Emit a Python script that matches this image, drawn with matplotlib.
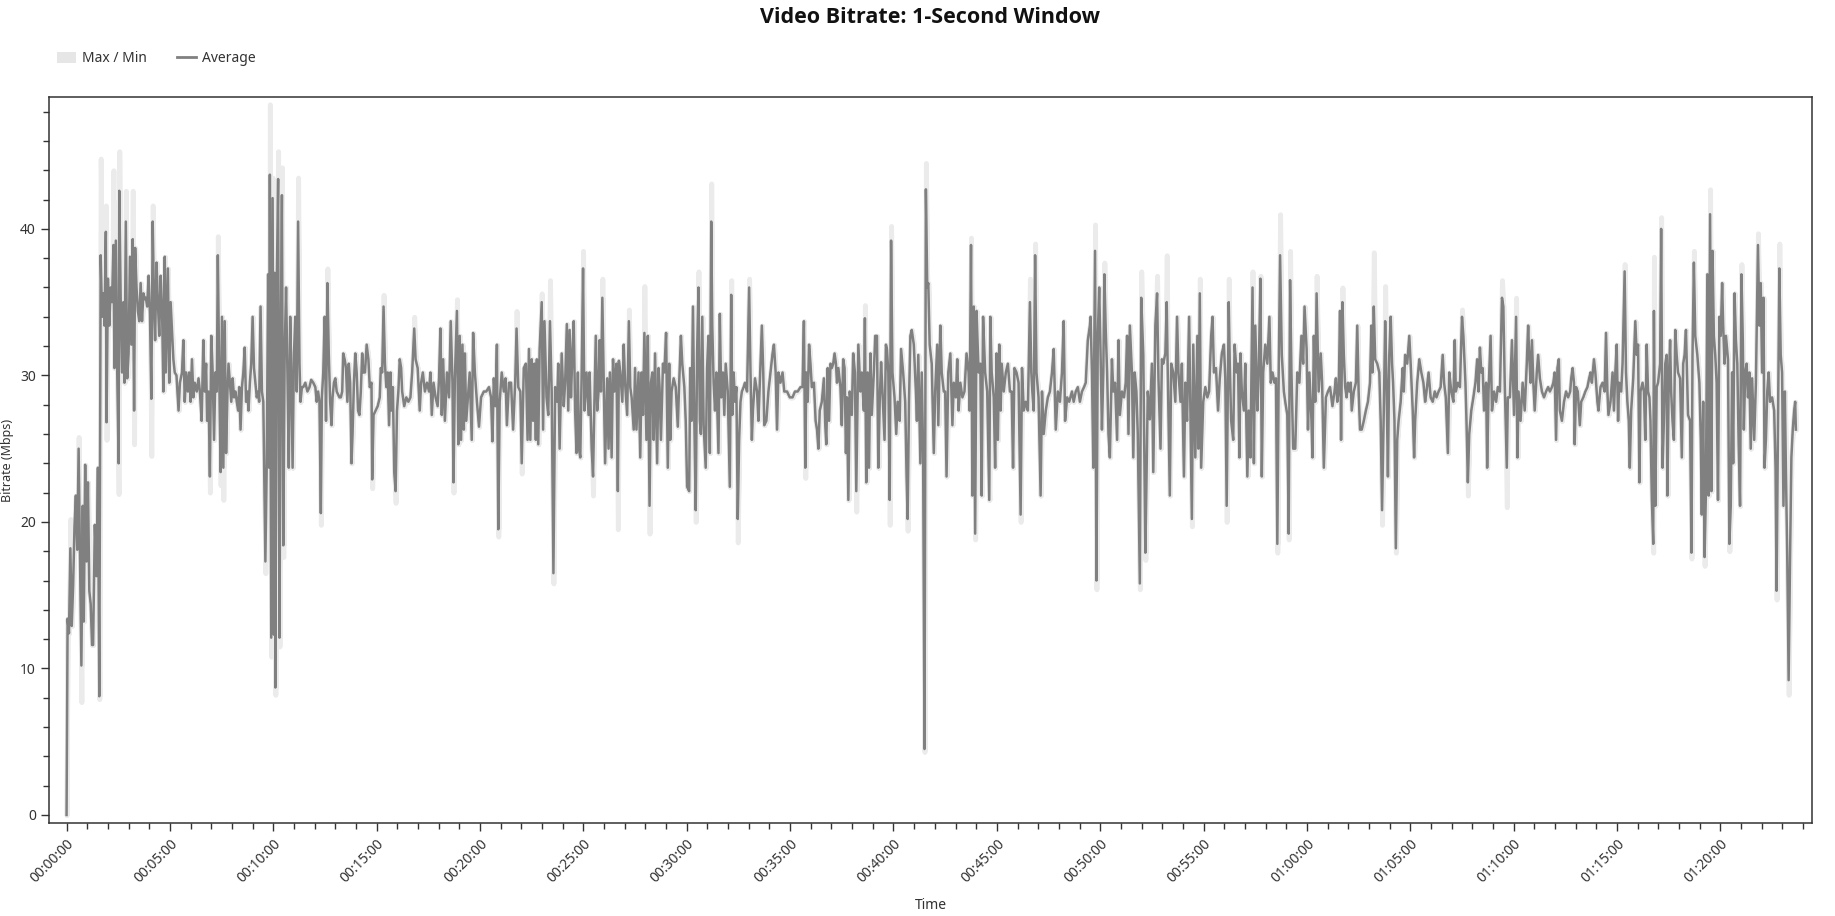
import numpy as np
import matplotlib
matplotlib.use("Agg")
import matplotlib.pyplot as plt
from matplotlib.ticker import MultipleLocator, FuncFormatter
from matplotlib.patches import Patch
from matplotlib.lines import Line2D

plt.rcParams['font.family'] = ['Noto Sans', 'DejaVu Sans']

# seconds from start / average Mbps
time_s = [
    0, 3, 7, 11, 15, 19, 23, 27, 31, 35, 39, 43, 47, 50, 54, 58, 62, 66, 70, 74, 77, 82, 87, 91, 95,
    99, 103, 107, 110, 114, 116, 120, 124, 128, 132, 136, 139, 143, 147, 151, 153, 157, 161, 165, 168,
    172, 176, 180, 184, 188, 192, 196, 199, 203, 207, 211, 215, 219, 223, 227, 230, 234, 238, 242, 246,
    250, 254, 257, 261, 265, 269, 273, 277, 281, 285, 288, 294, 298, 302, 306, 310, 314, 319, 325, 329,
    335, 339, 343, 347, 352, 356, 360, 364, 368, 372, 378, 383,
    387, 392, 397, 401, 405, 408, 412, 416, 420, 424, 428, 432, 436, 439, 443, 447, 451, 455, 459, 463,
    467, 470, 474, 478, 482, 486, 490, 494, 498, 501, 505, 509, 513, 517, 521, 525, 528, 532, 536, 540,
    544, 548, 552, 556, 559, 563, 567, 571, 577, 581, 585, 588, 590, 594, 598, 602, 604, 606, 610, 614,
    618, 621, 625, 629, 633, 637, 641, 645, 649, 652, 656, 660, 664, 668, 672, 676, 679, 683, 687, 693,
    699, 705, 710, 716, 722, 726, 730, 734, 738, 741, 745, 749, 753, 757, 761, 765, 769, 772, 776, 780,
    784, 788, 792, 796, 800, 803, 807, 811, 815, 819, 823, 827, 830, 834, 838, 842, 846, 850, 854, 858,
    861,
    866, 871, 876, 880, 885, 887, 891, 897, 903, 909, 912, 916, 920, 924, 928, 932, 936, 940, 943, 947,
    951, 955, 959, 963, 967, 971, 974, 980, 986, 992, 998, 1003, 1009, 1013, 1019, 1025, 1029, 1034,
    1040, 1046, 1052, 1056, 1060, 1065, 1071, 1077, 1081, 1085, 1089, 1093, 1098, 1104, 1110, 1115,
    1120, 1123, 1127, 1133, 1137, 1141, 1145, 1149, 1153, 1156, 1160, 1166, 1170, 1176, 1180, 1185,
    1191, 1197, 1203, 1211, 1218, 1226, 1232, 1236, 1240, 1245, 1249, 1253, 1257, 1263, 1269, 1274,
    1278, 1284, 1290, 1296, 1302, 1306, 1311, 1317, 1321, 1327, 1333, 1338, 1342, 1346, 1350, 1354,
    1358, 1362, 1365, 1369, 1373, 1379, 1383, 1387, 1393, 1398, 1403, 1408, 1413, 1418, 1424, 1427,
    1431, 1437, 1443, 1447, 1452, 1456, 1460, 1464, 1468, 1472, 1476, 1480, 1484, 1487, 1491, 1495,
    1499, 1503, 1509, 1515, 1518, 1524, 1528, 1532, 1536, 1540, 1544, 1547, 1551, 1555, 1559, 1563,
    1569, 1573, 1577,
    1582, 1586, 1590, 1596, 1600, 1603, 1607, 1613, 1617, 1621, 1627, 1632, 1636, 1640, 1646, 1650,
    1654, 1660, 1665, 1669, 1673, 1677, 1683, 1687, 1692, 1696, 1700, 1704, 1708, 1714, 1718, 1721,
    1725, 1731, 1735, 1740, 1745, 1749, 1752, 1756, 1762, 1768, 1774, 1778, 1783, 1787, 1793, 1797,
    1801, 1807, 1810, 1814, 1818, 1822, 1826, 1830, 1834, 1838, 1841, 1845, 1849, 1855, 1859, 1863,
    1867, 1871, 1874, 1878, 1882, 1886, 1892, 1896, 1900, 1905, 1909, 1913, 1919, 1925, 1929, 1932,
    1936, 1940, 1944, 1948, 1952, 1956, 1960, 1965, 1969, 1975, 1981, 1985, 1989, 1992, 1998, 2004,
    2008, 2012, 2018, 2022, 2025, 2031, 2037, 2043, 2049, 2053, 2058, 2062, 2066, 2072, 2078, 2083,
    2091, 2099, 2107, 2114, 2122, 2130, 2136, 2140, 2144, 2147, 2151, 2155, 2159, 2163, 2169, 2174,
    2178, 2182, 2186, 2192, 2198, 2202, 2205, 2209, 2213, 2217, 2221, 2225, 2229, 2233, 2236, 2240,
    2246, 2250, 2254, 2258, 2262, 2265, 2269, 2273,
    2279, 2283, 2288, 2292, 2298, 2304, 2308, 2314, 2317, 2321, 2325, 2329, 2333, 2337, 2343, 2347,
    2352, 2356, 2360, 2364, 2368, 2374, 2378, 2381, 2385, 2389, 2393, 2397, 2403, 2408, 2412, 2418,
    2422, 2428, 2434, 2438, 2441, 2445, 2449, 2453, 2459, 2465, 2468, 2472, 2478, 2482, 2486, 2490,
    2494, 2498, 2501, 2505, 2511, 2517, 2521, 2527, 2530, 2536, 2540, 2546, 2550, 2554, 2559, 2565,
    2571, 2575, 2581, 2585, 2589, 2594, 2600, 2606, 2612, 2618, 2621, 2625, 2629, 2633, 2637, 2641,
    2647, 2652, 2656, 2660, 2666, 2672, 2678, 2681, 2685, 2691, 2695, 2699, 2703, 2707, 2711, 2714,
    2720, 2726, 2732, 2738, 2743, 2747, 2751, 2757, 2763, 2769, 2773, 2778, 2784, 2790, 2796, 2800,
    2803, 2807, 2811, 2815, 2821, 2827, 2831, 2836, 2842, 2848, 2854, 2860, 2865, 2871, 2877, 2883,
    2889, 2894, 2898, 2904, 2910, 2918, 2923, 2929, 2935, 2941, 2947, 2953, 2958, 2964, 2970,
    2972, 2976, 2980, 2985, 2989, 2993, 2997, 3001, 3005, 3009, 3012, 3016, 3020, 3024, 3028, 3034,
    3038, 3043, 3049, 3053, 3057, 3063, 3069, 3074, 3078, 3082, 3086, 3092, 3096, 3100, 3105, 3109,
    3115, 3119, 3125, 3131, 3134, 3138, 3144, 3150, 3154, 3160, 3165, 3169, 3175, 3179, 3183, 3189,
    3193, 3196, 3202, 3206, 3212, 3218, 3223, 3227, 3233, 3237, 3243, 3247, 3252, 3258, 3262, 3266,
    3270, 3276, 3282, 3285, 3289, 3293, 3299, 3305, 3311, 3316, 3322, 3326, 3330, 3336, 3342, 3347,
    3353, 3359, 3363, 3367, 3373, 3376, 3380, 3386, 3390, 3396, 3400, 3404, 3407, 3411, 3417, 3421,
    3427, 3431, 3436, 3442, 3446, 3450, 3456, 3460, 3465, 3469, 3473, 3479, 3485, 3491, 3495, 3500,
    3506, 3510, 3514, 3518, 3522, 3527, 3533, 3537, 3543, 3547, 3551, 3555, 3560, 3566, 3572, 3578,
    3584, 3589, 3593, 3599, 3603, 3607, 3613, 3616, 3620, 3624, 3628, 3634, 3640, 3644, 3649, 3655,
    3661, 3667,
    3674, 3680, 3684, 3688, 3692, 3696, 3699, 3703, 3707, 3711, 3715, 3719, 3723, 3727, 3730, 3736,
    3742, 3746, 3750, 3754, 3759, 3765, 3771, 3777, 3783, 3787, 3790, 3794, 3798, 3804, 3810, 3814,
    3818, 3823, 3827, 3831, 3835, 3839, 3843, 3847, 3850, 3854, 3858, 3862, 3866, 3872, 3878, 3881,
    3885, 3891, 3897, 3901, 3907, 3911, 3914, 3920, 3926, 3932, 3938, 3943, 3947, 3953, 3959, 3965,
    3971, 3976, 3982, 3988, 3994, 3998, 4003, 4009, 4013, 4019, 4025, 4029, 4032, 4038, 4044, 4050,
    4054, 4060, 4063, 4067, 4071, 4077, 4083, 4089, 4094, 4098, 4102, 4106, 4110, 4114, 4120, 4123,
    4127, 4133, 4137, 4143, 4149, 4154, 4160, 4166, 4170, 4174, 4180, 4183, 4189, 4195, 4201, 4207,
    4211, 4214, 4220, 4226, 4232, 4238, 4242, 4245, 4249, 4253, 4257, 4261, 4267, 4271, 4276, 4282,
    4288, 4294, 4300, 4305, 4311, 4315, 4319, 4323, 4327, 4331, 4334, 4340, 4346, 4352, 4358, 4364,
    4367, 4371, 4375, 4377, 4381, 4386, 4392, 4396, 4402, 4408, 4414, 4419, 4423, 4427, 4433, 4437,
    4443, 4446, 4452, 4458, 4464, 4468, 4472, 4475, 4481, 4487, 4491, 4495, 4499, 4503, 4506, 4512,
    4516, 4522, 4526, 4530, 4534, 4537, 4541, 4547, 4553, 4557, 4561, 4565, 4568, 4574, 4578, 4582,
    4586, 4590, 4594, 4597, 4601, 4605, 4607, 4611, 4615, 4619, 4625, 4628, 4632, 4636, 4640, 4644,
    4646, 4650, 4654, 4657, 4661, 4665, 4669, 4673, 4677, 4683, 4688, 4692, 4696, 4700, 4706, 4712,
    4716, 4719, 4723, 4727, 4733, 4739, 4743, 4746, 4750, 4754, 4758, 4762, 4766, 4770, 4774, 4777,
    4781, 4785, 4789, 4793, 4797, 4801, 4805, 4808, 4812, 4816, 4822, 4826, 4830, 4834, 4837, 4841,
    4845, 4849, 4853, 4857, 4861, 4865, 4868, 4872, 4876, 4880, 4884, 4888, 4892, 4898, 4903, 4909,
    4913, 4917, 4921, 4925, 4928, 4932, 4936, 4940, 4944, 4950, 4956, 4960, 4963, 4967, 4971, 4975,
    4979, 4983, 4987, 4990, 4994, 4998, 5002, 5006, 5010, 5014, 5017, 5019,
]

avg_mbps = [
    0.0, 13.4, 12.4, 18.2, 12.9, 15.6, 19.7, 21.8, 18.1, 25.0, 17.3, 10.2, 21.1, 13.2, 23.9, 17.3, 22.7, 15.3, 14.4, 11.6, 11.6, 19.8, 16.3, 23.7, 8.1,
    38.2, 34.0, 35.6, 33.4, 39.8, 26.8, 36.6, 33.4, 36.0, 35.0, 38.9, 30.5, 39.2, 30.3, 24.0, 42.6, 35.3, 30.2, 35.0, 29.5,
    40.5, 29.8, 31.5, 38.1, 32.1, 39.3, 27.6, 38.7, 36.0, 34.4, 33.7, 36.3, 33.7, 35.6, 35.2, 35.3, 34.7, 36.8, 34.2, 28.4,
    40.5, 34.7, 32.4, 37.7, 35.0, 32.7, 36.8, 34.7, 28.9, 38.1, 30.2, 37.3, 29.5, 35.0, 33.1, 31.1, 30.2, 30.0, 27.6, 29.5,
    30.2, 32.4, 28.2, 30.2, 28.9, 30.2, 28.2, 31.1, 28.5, 29.5, 28.9, 29.8,
    28.9, 26.9, 32.4, 28.9, 30.8, 26.9, 28.9, 23.1, 32.7, 30.2, 25.6, 30.2, 28.9, 38.2, 30.2, 23.4, 34.0, 23.7, 33.7, 24.7,
    28.9, 30.8, 29.5, 28.2, 29.8, 28.5, 28.9, 28.2, 27.6, 29.2, 26.3, 29.2, 30.2, 31.9, 28.2, 28.9, 27.6, 29.5, 30.8, 34.0,
    30.5, 29.5, 28.5, 28.9, 28.2, 34.7, 28.9, 28.2, 17.3, 24.0, 36.9, 23.7, 43.7, 12.1, 42.1, 12.3, 37.0, 8.7, 36.0, 43.4,
    12.1, 30.0, 42.3, 18.4, 31.5, 36.0, 30.2, 23.7, 34.0, 30.5, 23.7, 31.5, 34.0, 28.9, 40.5, 30.8, 28.2, 29.2, 29.2, 29.5,
    28.9, 29.2, 29.7, 29.5, 29.2, 28.2, 28.9, 28.2, 20.6, 28.5, 30.2, 34.0, 26.9, 36.3, 31.5, 28.2, 26.6, 28.5, 29.5, 29.8,
    28.9, 28.7, 28.5, 28.5, 28.9, 31.5, 31.1, 30.5, 28.2, 30.8, 29.5, 24.0, 26.0, 29.5, 31.5, 30.2, 27.6, 27.3, 28.9, 31.5,
    30.2,
    30.2, 32.1, 31.1, 29.2, 29.5, 22.9, 27.3, 27.6, 27.9, 28.5, 30.5, 30.2, 34.7, 30.8, 29.2, 30.2, 26.6, 30.2, 27.6, 29.2,
    23.4, 22.1, 27.6, 28.9, 31.1, 30.5, 28.9, 27.9, 28.5, 28.2, 28.5, 30.2, 33.2, 31.1, 30.5, 27.6, 29.5, 30.2,
    28.9, 29.5, 28.9, 30.2, 27.3, 29.5, 28.5, 27.9, 29.8, 33.2, 27.3, 31.1, 26.9, 30.2, 28.5, 33.7,
    29.5, 22.7, 29.8, 34.4, 25.3, 32.7, 25.6, 32.1, 26.3, 31.5, 26.9, 28.9, 30.2, 25.6, 32.9, 30.2,
    28.2, 26.5, 28.5, 28.9, 28.9, 29.2, 28.5, 25.5, 29.8, 27.9, 32.1, 19.5, 28.2, 30.2, 28.9, 29.8,
    26.6, 29.5, 29.5, 26.3, 29.5, 33.2, 29.2, 28.9, 24.0, 30.5, 30.8, 25.6, 31.8, 25.6, 31.1, 26.9,
    30.8, 25.6, 31.1, 25.3, 31.8, 35.0, 26.3, 33.7, 28.5, 27.3, 33.7, 28.9, 16.5, 29.2, 28.2, 30.8,
    25.0, 31.5, 27.9, 29.5, 33.5, 27.6, 33.1, 28.5, 31.5, 33.7, 27.6, 24.7, 30.2, 25.0, 24.4, 30.2,
    37.3, 27.6, 30.2, 27.3, 30.2, 25.0, 23.1, 28.2, 32.7, 27.6, 28.9, 32.4, 28.9, 35.3, 29.5, 24.0,
    29.8, 25.0, 30.2,
    24.4, 31.1, 28.9, 30.8, 22.1, 31.0, 30.2, 28.2, 32.1, 29.5, 27.3, 33.7, 29.2, 28.5, 26.3, 30.5,
    26.3, 30.2, 24.4, 30.2, 27.3, 32.9, 25.6, 32.7, 21.1, 29.5, 30.2, 25.6, 31.5, 24.0, 30.5, 29.2,
    25.6, 30.8, 30.2, 32.9, 23.7, 30.8, 25.6, 28.9, 29.8, 29.2, 26.5, 29.5, 32.7, 30.8, 29.2, 26.9,
    22.4, 22.1, 30.5, 26.9, 34.7, 26.9, 20.8, 31.5, 36.0, 26.9, 26.0, 34.0, 26.6, 23.7, 30.5, 32.7,
    24.7, 40.5, 33.4, 29.5, 27.6, 30.2, 24.7, 34.2, 28.5, 30.2, 27.3, 30.8, 28.9, 22.4, 35.5, 27.3,
    30.2, 28.2, 29.2, 20.2, 25.6, 28.2, 28.9, 29.2, 29.5, 28.9, 36.0, 30.2, 25.6, 27.6, 29.8, 28.9,
    26.9, 29.5, 33.4, 30.2, 26.6, 26.9, 28.9, 30.2, 31.5, 32.1, 30.2, 26.3, 30.2, 29.5, 30.2, 28.9,
    28.9, 28.5, 28.5, 28.9, 28.9, 29.2, 29.2, 33.7, 23.7, 30.2, 28.2, 32.1, 30.8, 29.2, 29.5, 26.9,
    26.3, 25.0, 27.6, 28.2, 29.8, 26.6, 25.3, 30.5, 26.9, 30.8, 30.5, 30.8, 31.5, 30.8, 29.5, 30.5,
    29.2, 26.6, 31.1, 30.5, 24.7, 28.5, 21.5, 28.9,
    27.3, 31.5, 30.2, 22.1, 32.1, 28.9, 30.2, 27.6, 33.9, 22.7, 30.2, 23.7, 31.5, 27.3, 30.2, 32.7,
    32.7, 23.7, 28.2, 30.9, 28.9, 25.6, 32.1, 31.8, 30.2, 21.5, 39.2, 30.2, 28.5, 26.0, 28.2, 26.9,
    31.8, 30.2, 28.2, 23.1, 20.2, 28.2, 32.7, 33.1, 32.1, 28.9, 26.9, 31.4, 24.0, 30.2, 24.7, 4.5,
    42.7, 36.0, 36.3, 32.1, 30.8, 24.7, 28.9, 32.1, 26.6, 33.4, 30.2, 28.9, 28.9, 23.1, 30.2, 31.5,
    26.6, 29.5, 28.5, 31.1, 27.6, 29.5, 28.5, 28.9, 31.5, 30.2, 27.6, 38.9, 21.8, 34.7, 19.2, 34.4,
    30.2, 30.8, 21.8, 34.0, 30.2, 28.9, 21.5, 34.0, 30.2, 28.5, 23.7, 31.5, 25.6, 32.1, 27.6, 30.8,
    28.9, 30.2, 30.8, 28.9, 28.9, 23.7, 30.5, 30.2, 29.5, 20.5, 30.5, 27.6, 28.2, 27.6, 35.0, 30.2,
    28.9, 27.6, 38.2, 30.2, 28.5, 21.8, 28.9, 26.0, 27.6, 28.5, 28.9, 30.2, 31.8, 26.3, 28.9, 28.2,
    30.2, 33.7, 26.9, 28.5, 28.2, 28.9, 28.2, 28.9, 29.2, 28.2, 28.9, 29.2, 29.5, 32.4, 33.4,
    34.0, 30.2, 23.7, 38.5, 16.0, 32.7, 36.0, 31.5, 26.3, 30.2, 36.9, 33.1, 30.2, 26.0, 24.4, 31.1,
    28.9, 29.5, 25.6, 32.4, 27.3, 28.9, 28.5, 29.5, 32.7, 26.0, 33.4, 30.2, 24.4, 30.2, 28.9, 26.0,
    15.8, 35.3, 31.4, 17.9, 22.4, 28.9, 27.0, 30.8, 23.4, 33.4, 35.6, 29.8, 25.0, 31.1, 30.8, 31.5,
    35.0, 30.2, 21.8, 30.8, 30.2, 28.2, 34.0, 30.2, 28.2, 30.8, 23.1, 29.5, 26.9, 34.0, 26.9, 20.2,
    32.1, 24.4, 32.7, 25.0, 35.6, 23.7, 28.2, 29.2, 28.5, 28.9, 32.7, 34.0, 30.2, 30.5, 27.6, 29.8,
    31.5, 32.1, 29.8, 21.1, 35.0, 30.8, 26.9, 25.6, 32.1, 30.2, 30.8, 24.4, 31.5, 28.9, 27.6, 30.8,
    23.1, 27.6, 24.4, 36.0, 24.0, 33.4, 27.6, 30.2, 36.6, 23.1, 30.2, 32.1, 30.8, 34.0, 29.5, 30.2,
    29.5, 29.8, 18.5, 30.2, 38.2, 31.4, 28.9, 28.2, 27.3, 19.2, 36.5, 30.2, 25.0, 25.0, 30.2, 29.5,
    32.7, 30.8, 34.7, 31.8, 26.3, 30.2, 27.0, 24.4, 32.7, 28.2, 35.6, 28.9, 31.5, 29.5, 23.7, 28.5,
    28.9, 29.2,
    27.9, 28.9, 29.8, 28.2, 28.9, 34.4, 25.6, 35.0, 31.4, 29.2, 28.5, 29.5, 28.9, 29.5, 27.6, 28.9,
    29.5, 33.4, 28.9, 26.3, 26.3, 26.9, 27.6, 28.2, 29.5, 33.4, 30.2, 34.7, 31.1, 30.8, 30.2, 26.9,
    20.8, 27.6, 33.7, 29.5, 23.1, 31.4, 34.0, 30.8, 29.5, 26.9, 18.2, 25.6, 26.9, 28.2, 30.5, 28.9,
    31.4, 30.8, 32.7, 30.8, 27.6, 24.4, 26.9, 29.5, 31.1, 30.2, 29.5, 28.2, 28.9, 30.2, 28.5, 28.2,
    28.9, 28.5, 28.9, 29.2, 31.4, 29.5, 28.5, 24.7, 30.2, 28.9, 28.2, 32.4, 28.9, 29.5, 29.2, 34.0,
    32.7, 29.5, 26.9, 22.7, 26.0, 27.6, 28.5, 29.5, 31.1, 28.9, 31.9, 30.2, 30.5, 27.6, 29.5, 23.7,
    28.9, 32.7, 27.6, 28.9, 28.2, 29.2, 28.9, 35.3, 34.7, 29.5, 23.7, 28.5, 28.5, 32.4, 27.3, 34.0,
    24.4, 28.9, 26.9, 29.5, 27.6, 30.8, 33.4, 31.4, 29.5, 32.4, 29.5, 27.6, 30.2, 31.4, 29.8, 28.9,
    28.5, 28.9, 29.2, 28.9, 29.2, 29.5, 30.2, 25.6, 30.5, 31.1, 27.6, 26.9, 28.2, 28.9, 28.5, 28.9,
    29.8, 30.5, 29.5, 25.3, 29.2, 28.9, 26.6, 28.2, 28.5, 28.9, 29.2, 29.8, 30.2, 29.5, 31.1, 30.2,
    28.2, 27.6, 29.2, 29.5, 28.9, 32.9, 28.9, 27.3, 28.2, 30.2, 27.6, 30.2, 32.1, 26.9, 29.5, 28.9,
    30.8, 37.1, 30.2, 28.2, 26.9, 23.7, 27.6, 29.8, 33.7, 31.4, 32.1, 22.7, 28.9, 29.5, 28.9, 25.6,
    32.1, 28.9, 28.5, 26.9, 21.5, 18.5, 34.4, 21.1, 29.2, 29.5, 30.8, 40.0, 23.7, 26.9, 30.8, 31.4,
    21.8, 29.5, 32.4, 28.9, 26.9, 25.6, 33.1, 31.4, 30.2, 29.8, 24.4, 30.8, 31.4, 33.1, 27.3, 26.9,
    17.9, 31.4, 37.7, 32.7, 31.4, 29.5, 25.6, 20.5, 28.2, 17.6, 22.1, 36.9, 21.8, 41.0, 22.1, 38.5,
    32.7, 31.4, 29.5, 21.5, 34.0, 32.7, 36.3, 33.4, 30.8, 32.7, 31.1, 18.5, 21.1, 30.2, 24.0, 35.6,
    32.4, 30.8, 25.3, 21.1, 36.9, 32.4, 26.3, 30.2, 30.8, 28.5, 30.2, 25.0, 29.8, 25.6, 29.5, 38.9,
    33.4, 36.3, 30.2, 35.3, 23.7, 25.6, 28.9, 30.2, 28.2, 28.5, 27.6, 23.7, 15.3, 26.3, 37.3, 31.4,
    30.2, 21.1, 28.9, 23.7, 17.6, 9.2, 17.3, 24.4, 26.3, 27.6, 28.2, 26.3,
]

# where the Max / Min band reaches past the average line
band_max_t = [11, 35, 99, 114, 136, 143, 153, 172, 192, 250, 439, 590, 598, 614, 625, 672, 757,
              920, 1009, 1133, 1306, 1379, 1403, 1499, 1555, 1632, 1677, 1834, 1871, 1929, 1981,
              2317, 2393, 2494, 2625, 2796, 2811, 2985, 3012, 3119, 3165, 3193, 3289, 3373, 3442,
              3465, 3522, 3551, 3628, 3703, 3794, 3827, 4050, 4166, 4207, 4522, 4607, 4628, 4723,
              4770, 4861, 4909, 4971]
band_max_v = [20.2, 25.8, 44.8, 41.6, 44.0, 41.8, 45.3, 42.6, 42.6, 41.6, 39.5, 48.5, 43.5, 45.3, 44.2, 43.5, 37.3,
              35.5, 34.0, 35.2, 34.4, 35.6, 36.5, 38.5, 36.6, 34.5, 36.1, 37.1, 43.1, 36.5, 36.6,
              34.8, 40.2, 44.5, 39.4, 36.6, 39.0, 40.3, 37.7, 37.1, 36.8, 38.2, 36.6, 36.6, 37.1,
              36.8, 41.0, 38.5, 36.8, 36.0, 38.4, 36.1, 34.5, 36.5, 35.3, 37.6, 38.1, 40.8, 38.5,
              42.7, 37.6, 39.7, 39.0]
band_min_t = [43, 95, 116, 151, 196, 246, 416, 447, 455, 577, 594, 606, 618, 629, 738, 887, 955,
              1123, 1253, 1321, 1413, 1528, 1600, 1692, 1826, 1948, 2144, 2292, 2389, 2441, 2490,
              2637, 2769, 2989, 3115, 3131, 3266, 3367, 3514, 3547, 3818, 3858, 4067, 4180, 4605,
              4716, 4754, 4826, 4963, 4998]
band_min_v = [7.7, 7.9, 25.6, 21.9, 25.3, 24.5, 22.0, 22.5, 21.5, 16.5, 10.8, 8.2, 11.5, 17.6, 19.8, 22.3, 21.3,
              22.0, 19.0, 23.3, 15.8, 21.8, 19.5, 19.2, 20.0, 18.6, 23.0, 20.7, 19.8, 19.4, 4.3,
              18.8, 20.0, 15.4, 15.4, 17.4, 19.7, 20.0, 17.9, 18.8, 19.8, 17.9, 21.8, 21.0, 17.9,
              17.5, 17.0, 18.0, 14.7, 8.2]


def hms(s, pos=None):
    s = int(round(s))
    return f"{s // 3600:02d}:{s % 3600 // 60:02d}:{s % 60:02d}"


def main():
    t = np.array(time_s, dtype=float)
    avg = np.array(avg_mbps)
    hi = avg.copy()
    lo = avg.copy()
    for tt, v in zip(band_max_t, band_max_v):
        hi[np.abs(t - tt).argmin()] = v
    for tt, v in zip(band_min_t, band_min_v):
        lo[np.abs(t - tt).argmin()] = v

    fig = plt.figure(figsize=(18.35, 9.16), dpi=100)
    ax = fig.add_axes([0.0267, 0.1015, 0.9608, 0.7926])

    band_col = "#ebebeb"
    ax.fill_between(t, lo, hi, color=band_col, lw=3.5, edgecolor=band_col, zorder=1)
    ax.plot(t, avg, color="#808080", lw=1.8, zorder=2)

    ax.set_xlim(-51, 5066)
    ax.set_ylim(-0.55, 49.0)

    ax.xaxis.set_major_locator(MultipleLocator(300))
    ax.xaxis.set_minor_locator(MultipleLocator(60))
    ax.xaxis.set_major_formatter(FuncFormatter(hms))
    ax.yaxis.set_major_locator(MultipleLocator(10))
    ax.yaxis.set_minor_locator(MultipleLocator(2))

    ax.tick_params(which="major", length=6, width=1, color="#333333", labelsize=10, labelcolor="#333333")
    ax.tick_params(which="minor", length=4, width=1, color="#333333")
    for lab in ax.get_xticklabels():
        lab.set_rotation(45)
        lab.set_ha("right")
        lab.set_rotation_mode("anchor")
    for sp in ax.spines.values():
        sp.set_color("#333333")
        sp.set_linewidth(1.1)

    ax.set_xlabel("Time", fontsize=10, color="#333333", labelpad=8)
    ax.set_ylabel("Bitrate (Mbps)", fontsize=9, color="#333333", labelpad=10)
    ax.xaxis.set_label_coords(0.5, -0.103)
    ax.yaxis.set_label_coords(-0.02, 0.5)

    fig.text(0.507, 0.981, "Video Bitrate: 1-Second Window", ha="center", va="center",
             fontsize=15.5, fontweight="bold", color="#111111",
             family=["Open Sans", "Lato", "DejaVu Sans"])

    handles = [Patch(facecolor="#e6e6e6", edgecolor="none"),
               Line2D([], [], color="#808080", lw=2)]
    fig.legend(handles, ["Max / Min", "Average"], loc="center left", bbox_to_anchor=(0.024, 0.936),
               ncol=2, frameon=False, fontsize=10, handlelength=1.4, handleheight=0.9,
               columnspacing=2.2, handletextpad=0.4, labelcolor="#333333")

    fig.savefig("out.png", dpi=100)


if __name__ == "__main__":
    main()
